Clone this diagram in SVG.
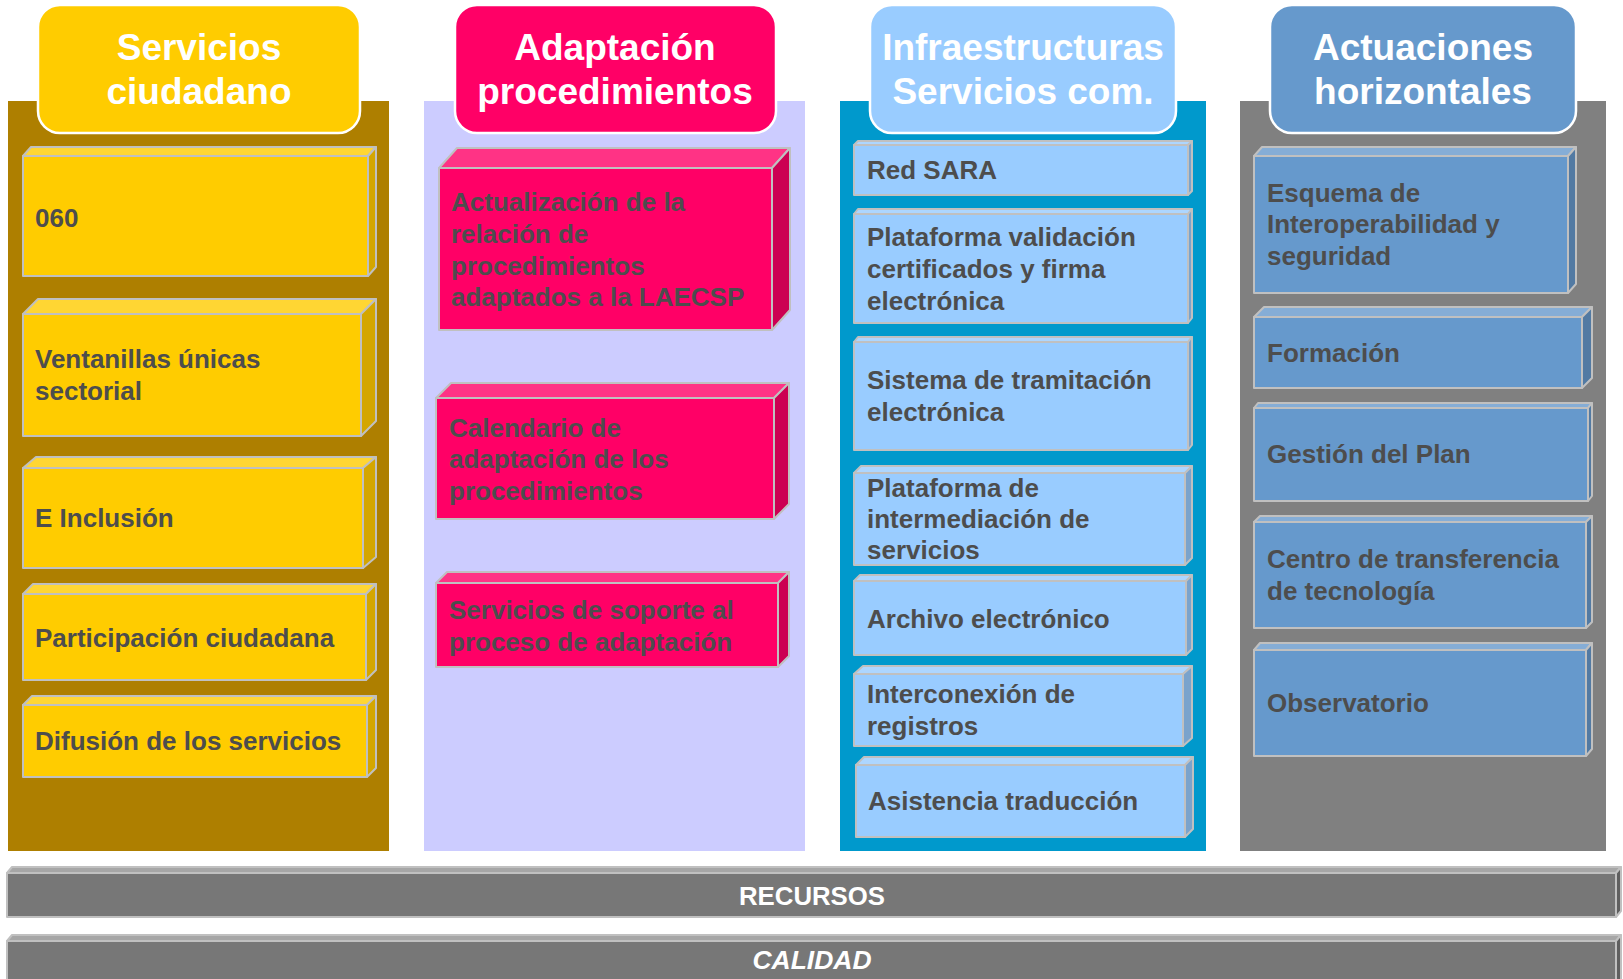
<svg xmlns="http://www.w3.org/2000/svg" width="1623" height="979" viewBox="0 0 1623 979">
<style>
.bg{fill:#ffffff}
.t{font-family:"Liberation Sans",Arial,sans-serif;font-weight:bold;font-size:26px;fill:#4D4D4D}
.h{font-family:"Liberation Sans",Arial,sans-serif;font-weight:bold;font-size:37px;fill:#ffffff;text-anchor:middle}
.hb{stroke:#ffffff;stroke-width:2.5}
.e{stroke:#C0C0C0;stroke-width:2;stroke-linejoin:round}
.yf{fill:#FFCC00}.yt{fill:#FFD633}.ys{fill:#D4A600}
.pf{fill:#FF0066}.pt{fill:#FF3385}.ps{fill:#CC0052}
.lf{fill:#99CCFF}.lt{fill:#ADD6FF}.ls{fill:#7AA3CC}
.sf{fill:#6699CC}.st{fill:#85ADD6}.ss{fill:#527AA3}
.gf{fill:#777777}.gt{fill:#A6A6A6}.gs{fill:#5F5F5F}
.bar{font-family:"Liberation Sans",Arial,sans-serif;font-weight:bold;font-size:26px;fill:#ffffff;text-anchor:middle}
</style>
<rect class="bg" x="0" y="0" width="1623" height="979"/>

<g id="panels">
<rect x="8" y="101" width="381" height="750" fill="#AE7F00"/>
<rect x="424" y="101" width="381" height="750" fill="#CCCCFF"/>
<rect x="840" y="101" width="366" height="750" fill="#0099CC"/>
<rect x="1240" y="101" width="366" height="750" fill="#808080"/>
</g>

<g id="header-servicios">
<rect class="yf hb" x="38" y="5" width="322" height="128" rx="22"/>
<text class="h" x="199" y="60">Servicios</text>
<text class="h" x="199" y="104">ciudadano</text>
</g>
<g id="header-adaptacion">
<rect class="pf hb" x="455" y="5" width="321" height="128" rx="22"/>
<text class="h" x="615" y="60">Adaptación</text>
<text class="h" x="615" y="104">procedimientos</text>
</g>
<g id="header-infraestructuras">
<rect class="lf hb" x="870" y="5" width="306" height="128" rx="22"/>
<text class="h" x="1023" y="60">Infraestructuras</text>
<text class="h" x="1023" y="104">Servicios com.</text>
</g>
<g id="header-actuaciones">
<rect class="sf hb" x="1270" y="5" width="306" height="128" rx="22"/>
<text class="h" x="1423" y="60">Actuaciones</text>
<text class="h" x="1423" y="104">horizontales</text>
</g>

<!-- Column 1 -->
<g id="n-060">
<rect class="yf e" x="23" y="156" width="345" height="120"/>
<polygon class="yt e" points="23,156 31,147 376,147 368,156"/>
<polygon class="ys e" points="368,156 376,147 376,267 368,276"/>
<text class="t" x="35" y="227">060</text>
</g>
<g id="n-ventanillas">
<rect class="yf e" x="23" y="314" width="338" height="122"/>
<polygon class="yt e" points="23,314 38,299 376,299 361,314"/>
<polygon class="ys e" points="361,314 376,299 376,421 361,436"/>
<text class="t" x="35" y="368">Ventanillas únicas</text>
<text class="t" x="35" y="400">sectorial</text>
</g>
<g id="n-einclusion">
<rect class="yf e" x="23" y="468" width="340" height="100"/>
<polygon class="yt e" points="23,468 36,457 376,457 363,468"/>
<polygon class="ys e" points="363,468 376,457 376,557 363,568"/>
<text class="t" x="35" y="527">E Inclusión</text>
</g>
<g id="n-participacion">
<rect class="yf e" x="23" y="594" width="343" height="86"/>
<polygon class="yt e" points="23,594 33,584 376,584 366,594"/>
<polygon class="ys e" points="366,594 376,584 376,670 366,680"/>
<text class="t" x="35" y="647">Participación ciudadana</text>
</g>
<g id="n-difusion">
<rect class="yf e" x="23" y="705" width="344" height="72"/>
<polygon class="yt e" points="23,705 32,696 376,696 367,705"/>
<polygon class="ys e" points="367,705 376,696 376,768 367,777"/>
<text class="t" x="35" y="750">Difusión de los servicios</text>
</g>

<!-- Column 2 -->
<g id="n-actualizacion">
<rect class="pf e" x="439" y="168" width="333" height="162"/>
<polygon class="pt e" points="439,168 457,148 790,148 772,168"/>
<polygon class="ps e" points="772,168 790,148 790,310 772,330"/>
<text class="t" x="451" y="211">Actualización de la</text>
<text class="t" x="451" y="243">relación de</text>
<text class="t" x="451" y="275">procedimientos</text>
<text class="t" x="451" y="306">adaptados a la LAECSP</text>
</g>
<g id="n-calendario">
<rect class="pf e" x="436" y="398" width="338" height="121"/>
<polygon class="pt e" points="436,398 451,383 789,383 774,398"/>
<polygon class="ps e" points="774,398 789,383 789,504 774,519"/>
<text class="t" x="449" y="437">Calendario de</text>
<text class="t" x="449" y="468">adaptación de los</text>
<text class="t" x="449" y="500">procedimientos</text>
</g>
<g id="n-soporte">
<rect class="pf e" x="436" y="583" width="342" height="84"/>
<polygon class="pt e" points="436,583 447,572 789,572 778,583"/>
<polygon class="ps e" points="778,583 789,572 789,656 778,667"/>
<text class="t" x="449" y="619">Servicios de soporte al</text>
<text class="t" x="449" y="651">proceso de adaptación</text>
</g>

<!-- Column 3 -->
<g id="n-redsara">
<rect class="lf e" x="854" y="145" width="334" height="50"/>
<polygon class="lt e" points="854,145 858,141 1192,141 1188,145"/>
<polygon class="ls e" points="1188,145 1192,141 1192,191 1188,195"/>
<text class="t" x="867" y="179">Red SARA</text>
</g>
<g id="n-validacion">
<rect class="lf e" x="854" y="214" width="334" height="109"/>
<polygon class="lt e" points="854,214 858,209 1192,209 1188,214"/>
<polygon class="ls e" points="1188,214 1192,209 1192,318 1188,323"/>
<text class="t" x="867" y="246">Plataforma validación</text>
<text class="t" x="867" y="278">certificados y firma</text>
<text class="t" x="867" y="310">electrónica</text>
</g>
<g id="n-tramitacion">
<rect class="lf e" x="854" y="342" width="334" height="108"/>
<polygon class="lt e" points="854,342 858,337 1192,337 1188,342"/>
<polygon class="ls e" points="1188,342 1192,337 1192,445 1188,450"/>
<text class="t" x="867" y="389">Sistema de tramitación</text>
<text class="t" x="867" y="421">electrónica</text>
</g>
<g id="n-intermediacion">
<rect class="lf e" x="854" y="473" width="331" height="92"/>
<polygon class="lt e" points="854,473 861,466 1192,466 1185,473"/>
<polygon class="ls e" points="1185,473 1192,466 1192,558 1185,565"/>
<text class="t" x="867" y="497">Plataforma de</text>
<text class="t" x="867" y="528">intermediación de</text>
<text class="t" x="867" y="559">servicios</text>
</g>
<g id="n-archivo">
<rect class="lf e" x="854" y="581" width="332" height="74"/>
<polygon class="lt e" points="854,581 860,575 1192,575 1186,581"/>
<polygon class="ls e" points="1186,581 1192,575 1192,649 1186,655"/>
<text class="t" x="867" y="628">Archivo electrónico</text>
</g>
<g id="n-interconexion">
<rect class="lf e" x="854" y="674" width="329" height="72"/>
<polygon class="lt e" points="854,674 863,666 1192,666 1183,674"/>
<polygon class="ls e" points="1183,674 1192,666 1192,738 1183,746"/>
<text class="t" x="867" y="703">Interconexión de</text>
<text class="t" x="867" y="735">registros</text>
</g>
<g id="n-traduccion">
<rect class="lf e" x="856" y="765" width="329" height="72"/>
<polygon class="lt e" points="856,765 864,757 1193,757 1185,765"/>
<polygon class="ls e" points="1185,765 1193,757 1193,829 1185,837"/>
<text class="t" x="868" y="810">Asistencia traducción</text>
</g>

<!-- Column 4 -->
<g id="n-esquema">
<rect class="sf e" x="1254" y="156" width="314" height="137"/>
<polygon class="st e" points="1254,156 1262,147 1576,147 1568,156"/>
<polygon class="ss e" points="1568,156 1576,147 1576,284 1568,293"/>
<text class="t" x="1267" y="202">Esquema de</text>
<text class="t" x="1267" y="233">Interoperabilidad y</text>
<text class="t" x="1267" y="265">seguridad</text>
</g>
<g id="n-formacion">
<rect class="sf e" x="1254" y="317" width="328" height="71"/>
<polygon class="st e" points="1254,317 1264,307 1592,307 1582,317"/>
<polygon class="ss e" points="1582,317 1592,307 1592,378 1582,388"/>
<text class="t" x="1267" y="362">Formación</text>
</g>
<g id="n-gestion">
<rect class="sf e" x="1254" y="408" width="334" height="93"/>
<polygon class="st e" points="1254,408 1258,403 1592,403 1588,408"/>
<polygon class="ss e" points="1588,408 1592,403 1592,496 1588,501"/>
<text class="t" x="1267" y="463">Gestión del Plan</text>
</g>
<g id="n-centro">
<rect class="sf e" x="1254" y="522" width="332" height="106"/>
<polygon class="st e" points="1254,522 1260,516 1592,516 1586,522"/>
<polygon class="ss e" points="1586,522 1592,516 1592,622 1586,628"/>
<text class="t" x="1267" y="568">Centro de transferencia</text>
<text class="t" x="1267" y="600">de tecnología</text>
</g>
<g id="n-observatorio">
<rect class="sf e" x="1254" y="650" width="332" height="106"/>
<polygon class="st e" points="1254,650 1260,643 1592,643 1586,650"/>
<polygon class="ss e" points="1586,650 1592,643 1592,749 1586,756"/>
<text class="t" x="1267" y="712">Observatorio</text>
</g>

<!-- Bottom bars -->
<g id="n-recursos">
<rect class="gf e" x="7" y="873" width="1609" height="44"/>
<polygon class="gt e" points="7,873 12,867 1621,867 1616,873"/>
<polygon class="gs e" points="1616,873 1621,867 1621,911 1616,917"/>
<text class="bar" x="812" y="905" textLength="146" lengthAdjust="spacingAndGlyphs">RECURSOS</text>
</g>
<g id="n-calidad">
<rect class="gf e" x="7" y="941" width="1609" height="50"/>
<polygon class="gt e" points="7,941 12,935 1621,935 1616,941"/>
<polygon class="gs e" points="1616,941 1621,935 1621,985 1616,991"/>
<text class="bar" x="812" y="969" font-style="italic" textLength="119" lengthAdjust="spacingAndGlyphs">CALIDAD</text>
</g>

<g id="connectors"/>
</svg>
